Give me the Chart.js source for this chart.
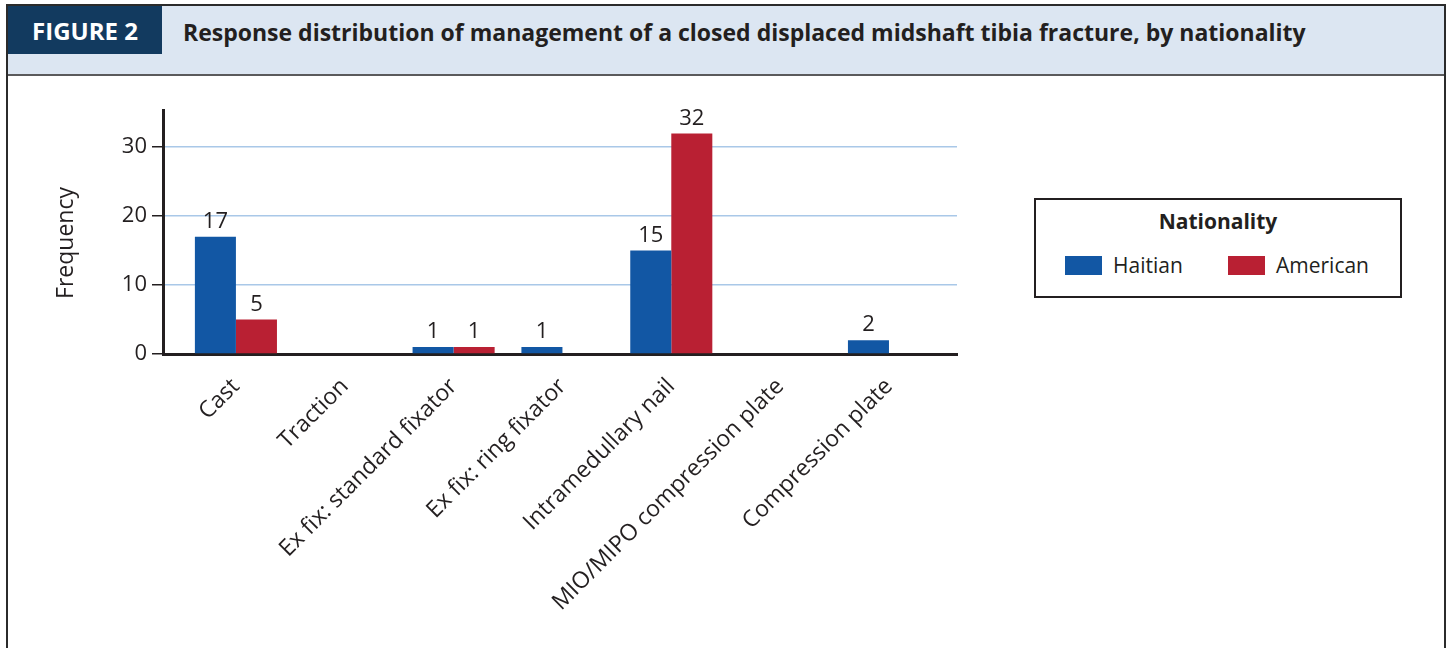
<!DOCTYPE html>
<html lang="en">
<head>
    <meta charset="UTF-8">
    <title>Response distribution by nationality</title>
    <script src="https://cdn.jsdelivr.net/npm/chart.js"></script>
    <style>
        html, body { margin: 0; padding: 0; background: #fff; }
        body { width: 1447px; height: 648px; position: relative; overflow: hidden; font-family: 'Open Sans', sans-serif; color: #231f20; }
        .frame {
            position: absolute; left: 6px; top: 4px; width: 1436px; height: 700px;
            border: 2px solid #2b2b2b; border-bottom: none; background: #fff;
        }
        .header {
            position: absolute; left: 0; top: 0; width: 100%; height: 68px;
            background: #dce6f2; border-bottom: 2px solid #5a5a5c;
        }
        .fig {
            position: absolute; left: 0; top: 0; width: 154px; height: 48px;
            background: #123a5f; color: #fff; font-weight: 700; font-size: 24px;
            line-height: 50px; text-align: center;
        }
        .title {
            position: absolute; left: 175px; top: 0; height: 48px; line-height: 52px;
            font-weight: 700; font-size: 23px; white-space: nowrap; color: #231f20;
        }
        #wrap { position: absolute; left: 0; top: 0; width: 1000px; height: 648px; }
        .legend {
            position: absolute; left: 1034px; top: 198px; width: 364px; height: 96px;
            border: 2px solid #231f20; background: #fff;
        }
        .legend h3 {
            margin: 0; position: absolute; top: 7px; width: 100%; text-align: center;
            font-size: 21px; font-weight: 700;
        }
        .item { position: absolute; top: 53px; height: 24px; display: flex; align-items: center; font-size: 21px; }
        .sw { width: 37px; height: 19px; margin-right: 11px; }
    </style>
</head>
<body>
    <div class="frame">
        <div class="header">
            <div class="fig">FIGURE 2</div>
            <div class="title">Response distribution of management of a closed displaced midshaft tibia fracture, by nationality</div>
        </div>
    </div>
    <div id="wrap"><canvas id="chart"></canvas></div>
    <div class="legend" id="legend"><h3>Nationality</h3></div>

    <script>
        const categories = ['Cast', 'Traction', 'Ex fix: standard fixator', 'Ex fix: ring fixator',
            'Intramedullary nail', 'MIO/MIPO compression plate', 'Compression plate'];
        const seriesNames = ['Haitian', 'American'];
        const haitian = [17, 0, 1, 1, 15, 0, 2];
        const american = [5, 0, 1, 0, 32, 0, 0];
        const yTicks = [0, 10, 20, 30];
        const yTitle = 'Frequency';

        const colors = ['#1257a4', '#b92033'];
        const ink = '#231f20';
        const font = "'Open Sans', sans-serif";

        // legend box, built from the series names
        const legend = document.getElementById('legend');
        const legendX = [29, 192];
        seriesNames.forEach((name, i) => {
            const it = document.createElement('div');
            it.className = 'item';
            it.style.left = legendX[i] + 'px';
            it.innerHTML = '<span class="sw" style="background:' + colors[i] + '"></span>' + name;
            legend.appendChild(it);
        });

        // value labels on top of the bars + the y axis title (sits a bit below centre)
        const valueLabels = {
            id: 'valueLabels',
            afterDatasetsDraw(chart) {
                const ctx = chart.ctx;
                ctx.save();
                ctx.font = '22px ' + font;
                ctx.fillStyle = ink;
                ctx.textAlign = 'center';
                ctx.textBaseline = 'bottom';
                chart.data.datasets.forEach((ds, i) => {
                    chart.getDatasetMeta(i).data.forEach((bar, j) => {
                        const v = ds.data[j].y;
                        if (v > 0) ctx.fillText(v, bar.x, bar.y - 4);
                    });
                });
                ctx.translate(66, chart.chartArea.top + 133);
                ctx.rotate(-Math.PI / 2);
                ctx.font = '23px ' + font;
                ctx.textBaseline = 'middle';
                ctx.fillText(yTitle, 0, 0);
                ctx.restore();
            }
        };

        const series = [haitian, american];
        new Chart(document.getElementById('chart'), {
            type: 'bar',
            data: {
                datasets: seriesNames.map((name, i) => ({
                    label: name,
                    data: series[i].map((v, j) => ({ x: j, y: v })),
                    backgroundColor: colors[i],
                    borderWidth: 0,
                    categoryPercentage: 0.754,
                    barPercentage: 1
                }))
            },
            options: {
                responsive: true,
                maintainAspectRatio: false,
                animation: false,
                layout: { padding: { left: 0, top: 110, right: 43, bottom: 0 }, autoPadding: false },
                plugins: {
                    legend: { display: false },
                    tooltip: { enabled: true }
                },
                scales: {
                    x: {
                        type: 'linear',
                        offset: false,
                        bounds: 'data',
                        min: -0.67,
                        max: 6.625,
                        afterBuildTicks: s => { s.ticks = categories.map((c, j) => ({ value: j })); },
                        afterFit: s => { s.height = 294; },
                        grid: { display: false },
                        border: { color: ink, width: 3 },
                        ticks: {
                            autoSkip: false,
                            maxRotation: 45,
                            minRotation: 45,
                            padding: 11,
                            color: ink,
                            font: { family: font, size: 23 },
                            callback: v => categories[v]
                        }
                    },
                    y: {
                        min: 0,
                        max: 35.4,
                        afterBuildTicks: s => { s.ticks = yTicks.map(v => ({ value: v })); },
                        afterFit: s => { s.width = 163; },
                        grid: { color: '#a9c8e8', lineWidth: 1.5, tickColor: ink, tickLength: 11 },
                        border: { color: ink, width: 3 },
                        ticks: { color: ink, padding: 5, font: { family: font, size: 22 } }
                    }
                }
            },
            plugins: [valueLabels]
        });
    </script>
</body>
</html>
